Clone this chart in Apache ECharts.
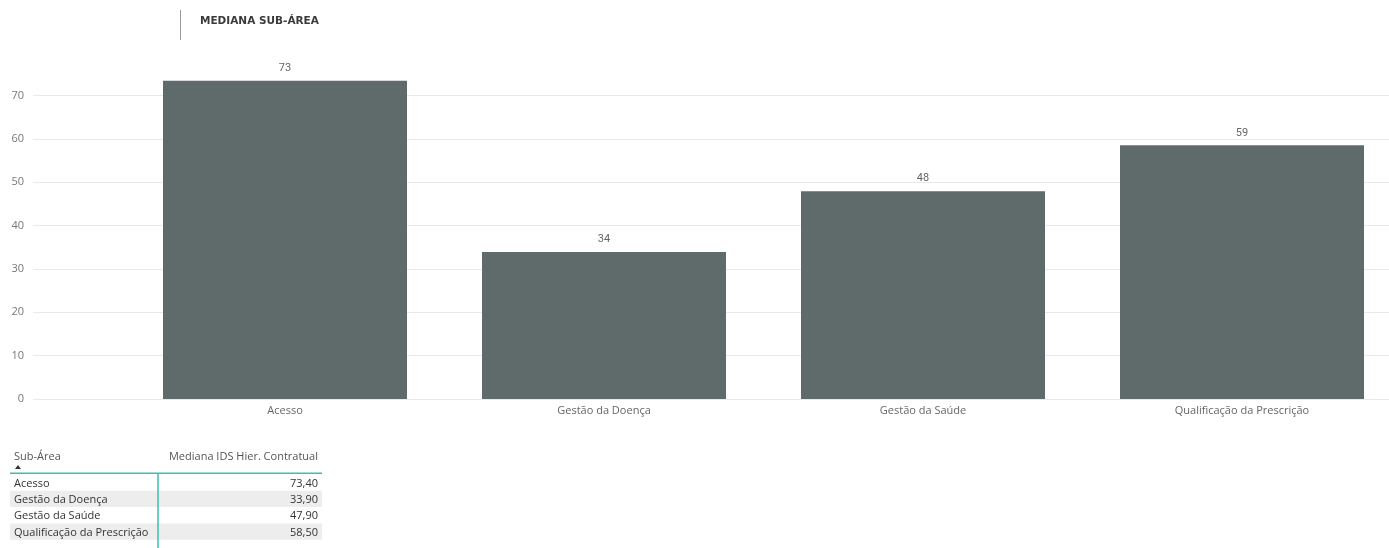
<!DOCTYPE html>
<html>
<head>
<meta charset="utf-8">
<script src="https://cdn.jsdelivr.net/npm/echarts@6/dist/echarts.min.js"></script>
<style>
  html, body { margin: 0; padding: 0; background: #fff; }
  #chart { width: 1389px; height: 548px; }
</style>
</head>
<body>
<div id="chart"></div>
<script>
// Median by sub-area
const categories = ['Acesso', 'Gestão da Doença', 'Gestão da Saúde', 'Qualificação da Prescrição'];
const medians = [73.4, 33.9, 47.9, 58.5];
const yTicks = { min: 0, max: 80, interval: 10 };
const tableHeaders = ['Sub-Área', 'Mediana IDS Hier. Contratual'];

const chart = echarts.init(document.getElementById('chart'));

const uiFont = '"Open Sans", "Noto Sans", sans-serif';
const plotTop = 52, plotBottom = 149;
const teal = '#3cbfae';

// Table rows below the chart
const tableX = 10, tableW = 312, colSplit = 158, headerLine = 473, rowH = 16.3;
const tableGraphics = [];
tableGraphics.push({
  type: 'text', x: 14, y: 457,
  style: { text: tableHeaders[0], font: '11px ' + uiFont, fill: '#555', verticalAlign: 'middle' }
});
tableGraphics.push({
  type: 'polygon',
  shape: { points: [[15, 469], [21, 469], [18, 465]] },
  style: { fill: '#333' }
});
tableGraphics.push({
  type: 'text', x: 318, y: 457,
  style: { text: tableHeaders[1], font: '11px ' + uiFont, fill: '#555', align: 'right', verticalAlign: 'middle' }
});
categories.forEach((c, i) => {
  const y = headerLine + 1.5 + i * rowH;
  if (i % 2 === 1) {
    tableGraphics.push({
      type: 'rect', shape: { x: tableX, y: y, width: tableW, height: rowH },
      style: { fill: '#ededed' }, z: 0
    });
  }
  tableGraphics.push({
    type: 'text', x: 14, y: y + rowH / 2 + 1,
    style: { text: c, font: '11px ' + uiFont, fill: '#333', verticalAlign: 'middle' }, z: 2
  });
  tableGraphics.push({
    type: 'text', x: 318, y: y + rowH / 2 + 1,
    style: { text: medians[i].toFixed(2).replace('.', ','), font: '11px ' + uiFont, fill: '#333', align: 'right', verticalAlign: 'middle' }, z: 2
  });
});
tableGraphics.push({
  type: 'rect', shape: { x: tableX, y: headerLine - 0.5, width: tableW, height: 1.5 },
  style: { fill: teal }, z: 3
});
tableGraphics.push({
  type: 'rect', shape: { x: colSplit - 0.75, y: headerLine, width: 1.5, height: 548 - headerLine },
  style: { fill: teal }, z: 3
});

chart.setOption({
  animation: false,
  title: {
    text: 'MEDIANA SUB-ÁREA',
    left: 195, top: 11,
    textStyle: { fontFamily: '"DejaVu Sans", sans-serif', fontWeight: 'bold', fontSize: 10.5, color: '#3a3a3a' }
  },
  graphic: [
    { type: 'line', shape: { x1: 180.5, y1: 10, x2: 180.5, y2: 40 }, style: { stroke: '#999', lineWidth: 1 } },
    ...tableGraphics
  ],
  grid: [
    { left: 33, right: 0, top: plotTop, bottom: plotBottom, outerBoundsMode: 'none' },
    { left: 125.5, width: 1276, top: plotTop, bottom: plotBottom, outerBoundsMode: 'none' }
  ],
  xAxis: [
    { type: 'category', gridIndex: 0, data: [''], show: false },
    {
      type: 'category', gridIndex: 1, data: categories,
      axisLine: { show: false }, axisTick: { show: false },
      axisLabel: { color: '#666', fontFamily: uiFont, fontSize: 11, margin: 6 }
    }
  ],
  yAxis: [
    {
      type: 'value', gridIndex: 0, min: yTicks.min, max: yTicks.max, interval: yTicks.interval,
      axisLine: { show: false }, axisTick: { show: false },
      axisLabel: { color: '#777', fontFamily: uiFont, fontSize: 11, margin: 9, showMaxLabel: false },
      splitLine: { show: true, showMaxLine: false, lineStyle: { color: '#e9e9e9', width: 1 } }
    },
    {
      type: 'value', gridIndex: 1, min: yTicks.min, max: yTicks.max, interval: yTicks.interval,
      show: false, splitLine: { show: false }
    }
  ],
  series: [{
    type: 'bar',
    xAxisIndex: 1, yAxisIndex: 1,
    data: medians,
    barWidth: 244,
    itemStyle: { color: '#5f6a6a' },
    label: {
      show: true, position: 'top', distance: 7,
      formatter: p => String(Math.round(p.value)),
      color: '#666', fontFamily: 'Roboto, sans-serif', fontSize: 11
    }
  }]
});
</script>
</body>
</html>
